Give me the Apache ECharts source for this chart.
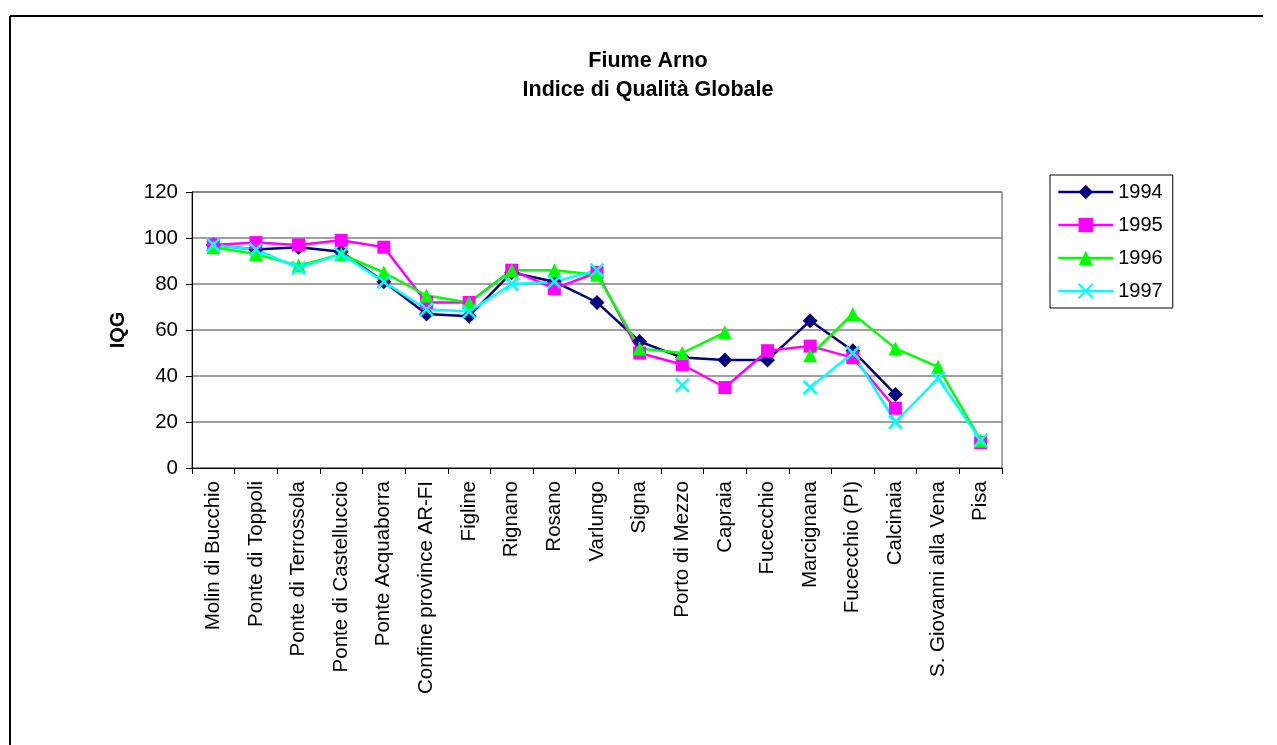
<!DOCTYPE html>
<html>
<head>
<meta charset="utf-8">
<script src="https://cdn.jsdelivr.net/npm/echarts@6/dist/echarts.min.js"></script>
<style>
  html, body { margin: 0; padding: 0; background: #fff; }
  #chart { width: 1277px; height: 745px; }
</style>
</head>
<body>
<div id="chart"></div>
<script>
// Monitoring stations along the Arno, upstream to downstream
const stations = [
  'Molin di Bucchio', 'Ponte di Toppoli', 'Ponte di Terrossola', 'Ponte di Castelluccio',
  'Ponte Acquaborra', 'Confine province AR-FI', 'Figline', 'Rignano', 'Rosano', 'Varlungo',
  'Signa', 'Porto di Mezzo', 'Capraia', 'Fucecchio', 'Marcignana', 'Fucecchio (PI)',
  'Calcinaia', 'S. Giovanni alla Vena', 'Pisa'
];

// IQG per year (null = no sample)
const iqg1994 = [97, 95, 96, 94, 81, 67, 66, 85, 81, 72, 55, 48, 47, 47, 64, 51, 32, null, null];
const iqg1995 = [97, 98, 97, 99, 96, 72, 72, 86, 78, 85, 50, 45, 35, 51, 53, 48, 26, null, 11];
const iqg1996 = [96, 93, 88, 93, 85, 75, 72, 86, 86, 84, 52, 50, 59, null, 49, 67, 52, 44, 12];
const iqg1997 = [97, 95, 87, 93, 81, 69, 68, 80, 81, 86, null, 36, null, null, 35, 50, 20, 39, 12];

const yTicks = [0, 20, 40, 60, 80, 100, 120];

const FONT = 'Liberation Sans, Arial, sans-serif';
const CROSS = 'path://M0,0L10,10M10,0L0,10';

function lineSeries(name, data, color, symbol, size, extra) {
  return Object.assign({
    name: name,
    type: 'line',
    data: data,
    symbol: symbol,
    symbolSize: size,
    showAllSymbol: true,
    connectNulls: false,
    lineStyle: { color: color, width: 2.5 },
    itemStyle: { color: color },
    emphasis: { disabled: true },
    animation: false
  }, extra || {});
}

const chart = echarts.init(document.getElementById('chart'), null, { renderer: 'canvas' });

chart.setOption({
  backgroundColor: '#fff',
  animation: false,
  textStyle: { fontFamily: FONT },
  graphic: [
    { type: 'line', shape: { x1: 10, y1: 16, x2: 1263, y2: 16 }, style: { stroke: '#000', lineWidth: 2 } },
    { type: 'line', shape: { x1: 10, y1: 16, x2: 10, y2: 745 }, style: { stroke: '#000', lineWidth: 2 } },
    { type: 'text', x: 648, y: 61, style: { text: 'Fiume Arno', font: 'bold 21.5px ' + FONT, fill: '#000', textAlign: 'center', textVerticalAlign: 'middle' } },
    { type: 'text', x: 648, y: 90, style: { text: 'Indice di Qualità Globale', font: 'bold 21.5px ' + FONT, fill: '#000', textAlign: 'center', textVerticalAlign: 'middle' } }
  ],
  legend: {
    orient: 'vertical',
    left: 1050,
    top: 175,
    padding: [7, 10, 7, 7],
    itemWidth: 55,
    itemHeight: 18,
    itemGap: 13,
    borderColor: '#000',
    borderWidth: 1,
    lineStyle: { width: 2.5 },
    textStyle: { fontSize: 20, color: '#000', fontFamily: FONT, lineHeight: 20 },
    data: ['1994', '1995', '1996', '1997']
  },
  grid: {
    left: 192, top: 192, width: 810, height: 276,
    show: true, borderColor: '#444', borderWidth: 1, backgroundColor: '#fff'
  },
  xAxis: {
    type: 'category',
    data: stations,
    boundaryGap: true,
    axisLine: { lineStyle: { color: '#000', width: 1 } },
    axisTick: { show: true, alignWithLabel: false, length: 6, lineStyle: { color: '#000' } },
    axisLabel: { rotate: 90, interval: 0, margin: 13, fontSize: 20.5, color: '#000', fontFamily: FONT },
    splitLine: { show: false }
  },
  yAxis: {
    type: 'value',
    min: yTicks[0],
    max: yTicks[yTicks.length - 1],
    interval: yTicks[1] - yTicks[0],
    name: 'IQG',
    nameLocation: 'middle',
    nameGap: 64,
    nameRotate: 90,
    nameTextStyle: { fontSize: 20, fontWeight: 'bold', color: '#000', fontFamily: FONT },
    axisLine: { show: true, lineStyle: { color: '#000', width: 1 } },
    axisTick: { show: true, length: 6, lineStyle: { color: '#000' } },
    axisLabel: { margin: 14, fontSize: 20.5, color: '#000', fontFamily: FONT },
    splitLine: { show: true, lineStyle: { color: '#808080', width: 1.5 } }
  },
  series: [
    lineSeries('1994', iqg1994, '#000080', 'diamond', 15),
    lineSeries('1995', iqg1995, '#FF00FF', 'rect', 13),
    lineSeries('1996', iqg1996, '#00FF00', 'triangle', 14),
    lineSeries('1997', iqg1997, '#00FFFF', CROSS, 13, {
      itemStyle: { color: '#00FFFF', borderColor: '#00FFFF', borderWidth: 2.5 }
    })
  ]
});
</script>
</body>
</html>
